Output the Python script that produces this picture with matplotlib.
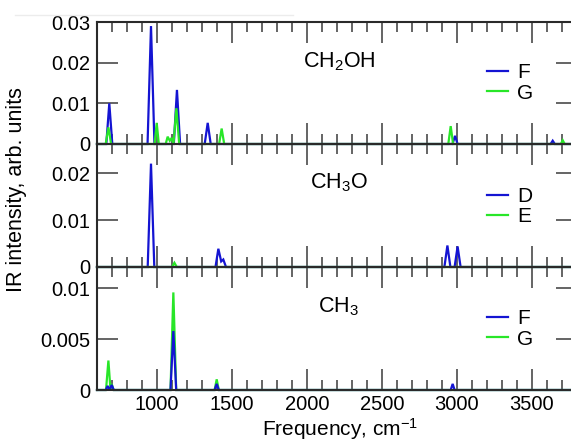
import matplotlib
matplotlib.use("Agg")
import matplotlib.pyplot as plt
from matplotlib.ticker import MultipleLocator
from matplotlib.lines import Line2D

plt.rcParams['font.family'] = ['Liberation Sans', 'DejaVu Sans']
plt.rcParams['font.size'] = 14.5
plt.rcParams['mathtext.fontset'] = 'custom'
plt.rcParams['mathtext.rm'] = 'Liberation Sans'
plt.rcParams['mathtext.it'] = 'Liberation Sans:italic'
plt.rcParams['mathtext.default'] = 'regular'

# ---------------- data ----------------
xlim = (600, 3800)
xticks = [1000, 1500, 2000, 2500, 3000, 3500]

# CH2OH
ch2oh_F_freq = [600, 662, 682, 702, 937, 960, 983, 1112, 1133, 1154, 1318, 1338, 1358,
                2970, 2987, 3004, 3624, 3638, 3652, 3800]
ch2oh_F_int = [0, 0, 0.0100, 0, 0, 0.0290, 0, 0, 0.0133, 0, 0, 0.0052, 0,
               0, 0.0020, 0, 0, 0.0008, 0, 0]
ch2oh_G_freq = [600, 658, 676, 694, 984, 998, 1012, 1058, 1071, 1085, 1098, 1110, 1129, 1148,
                1414, 1431, 1448, 2942, 2958, 2974, 3692, 3705, 3718, 3800]
ch2oh_G_int = [0, 0, 0.0041, 0, 0, 0.0052, 0, 0, 0.0018, 0.0008, 0.0015, 0, 0.0088, 0,
               0, 0.0038, 0, 0, 0.0044, 0, 0, 0.0009, 0, 0]

# CH3O
ch3o_D_freq = [600, 938, 960, 982, 1390, 1409, 1428, 1442, 1460,
               2916, 2936, 2956, 2984, 3004, 3024, 3800]
ch3o_D_int = [0, 0, 0.0221, 0, 0, 0.0039, 0.0012, 0.0016, 0,
              0, 0.0046, 0, 0, 0.0044, 0, 0]
ch3o_E_freq = [600, 1100, 1116, 1132, 3800]
ch3o_E_int = [0, 0, 0.0009, 0, 0]

# CH3
ch3_F_freq = [600, 658, 671, 684, 698, 712, 1090, 1109, 1128, 1384, 1398, 1412, 2958, 2971, 2984, 3800]
ch3_F_int = [0, 0, 0.0004, 0, 0.0005, 0, 0, 0.0058, 0, 0, 0.0006, 0, 0, 0.0006, 0, 0]
ch3_G_freq = [600, 660, 676, 690, 698, 710, 1090, 1109, 1128, 1384, 1398, 1412, 3800]
ch3_G_int = [0, 0, 0.0029, 0, 0.0006, 0, 0, 0.0096, 0, 0, 0.00105, 0, 0]

panels = [
    dict(name='CH$_2$OH', ylim=0.030, yticks=[0, 0.01, 0.02, 0.03],
         ylabels=['0', '0.01', '0.02', '0.03'],
         series=[('F', ch2oh_F_freq, ch2oh_F_int, 'blue'), ('G', ch2oh_G_freq, ch2oh_G_int, 'green')],
         front='green'),
    dict(name='CH$_3$O', ylim=0.0263, yticks=[0, 0.01, 0.02],
         ylabels=['0', '0.01', '0.02'],
         series=[('D', ch3o_D_freq, ch3o_D_int, 'blue'), ('E', ch3o_E_freq, ch3o_E_int, 'green')],
         front='green'),
    dict(name='CH$_3$', ylim=0.0121, yticks=[0, 0.005, 0.01],
         ylabels=['0', '0.005', '0.01'],
         series=[('F', ch3_F_freq, ch3_F_int, 'blue'), ('G', ch3_G_freq, ch3_G_int, 'green')],
         front='blue'),
]

colors = {'blue': '#1414d2', 'green': '#28e628'}

# ---------------- figure ----------------
W, H = 571, 441
fig = plt.figure(figsize=(W / 100, H / 100), dpi=100)

left_px, right_px = 97, 577
tops = [22, 144, 267]
bottoms = [144, 267, 390]
text_y = [0.672, 0.683, 0.675]
leg_y = [0.50, 0.492, 0.496]

spine_col = '#2a2a2a'
tick_col = '#4a4a4a'

for i, p in enumerate(panels):
    ax = fig.add_axes([left_px / W, 1 - bottoms[i] / H,
                       (right_px - left_px) / W, (bottoms[i] - tops[i]) / H])
    handles = {}
    order = [s for s in p['series'] if s[3] != p['front']] + [s for s in p['series'] if s[3] == p['front']]
    for lab, fx, fy, c in order:
        ln, = ax.plot(fx, fy, color=colors[c], lw=1.6, solid_joinstyle='miter', clip_on=False)
        handles[lab] = ln
    ax.set_xlim(*xlim)
    ax.set_ylim(0, p['ylim'])
    ax.set_yticks(p['yticks'], p['ylabels'])
    ax.xaxis.set_major_locator(MultipleLocator(500))
    ax.xaxis.set_minor_locator(MultipleLocator(100))
    ax.tick_params(axis='both', which='major', direction='in', length=15, width=1.2,
                   color=tick_col, top=True, right=True, labelsize=14.5)
    ax.tick_params(axis='y', which='major', pad=4.5)
    ax.tick_params(axis='x', which='major', pad=3.5)
    ax.tick_params(axis='x', which='minor', direction='in', length=7.5, width=1.2,
                   color=tick_col, top=True, bottom=True)
    if i < 2:
        ax.tick_params(axis='x', labelbottom=False)
    else:
        ax.set_xticks(xticks)
        ax.xaxis.set_minor_locator(MultipleLocator(100))
    for s in ax.spines.values():
        s.set_linewidth(1.5)
        s.set_color(spine_col)
    ax.patch.set_alpha(0)
    ax.text(0.504, text_y[i], p['name'], transform=ax.transAxes,
            ha='center', va='center', fontsize=15.5)
    labs = [s[0] for s in p['series']]
    ax.legend([handles[l] for l in labs], labs, loc='center left',
              bbox_to_anchor=(0.8125, leg_y[i]), frameon=False,
              handlelength=1.0, handletextpad=0.45, labelspacing=0.05,
              borderpad=0, borderaxespad=0, fontsize=15)

fig.text(17 / W, 1 - 190 / H, 'IR intensity, arb. units', rotation=90,
         ha='center', va='center', fontsize=15.5)
fig.text(340 / W, 1 - 436 / H, 'Frequency, cm$^{-1}$', ha='center', va='baseline', fontsize=15)

fig.add_artist(Line2D([15 / W, 293 / W], [1 - 15 / H, 1 - 15 / H], color='#ececec', lw=1))

fig.savefig('out.png', dpi=100)
